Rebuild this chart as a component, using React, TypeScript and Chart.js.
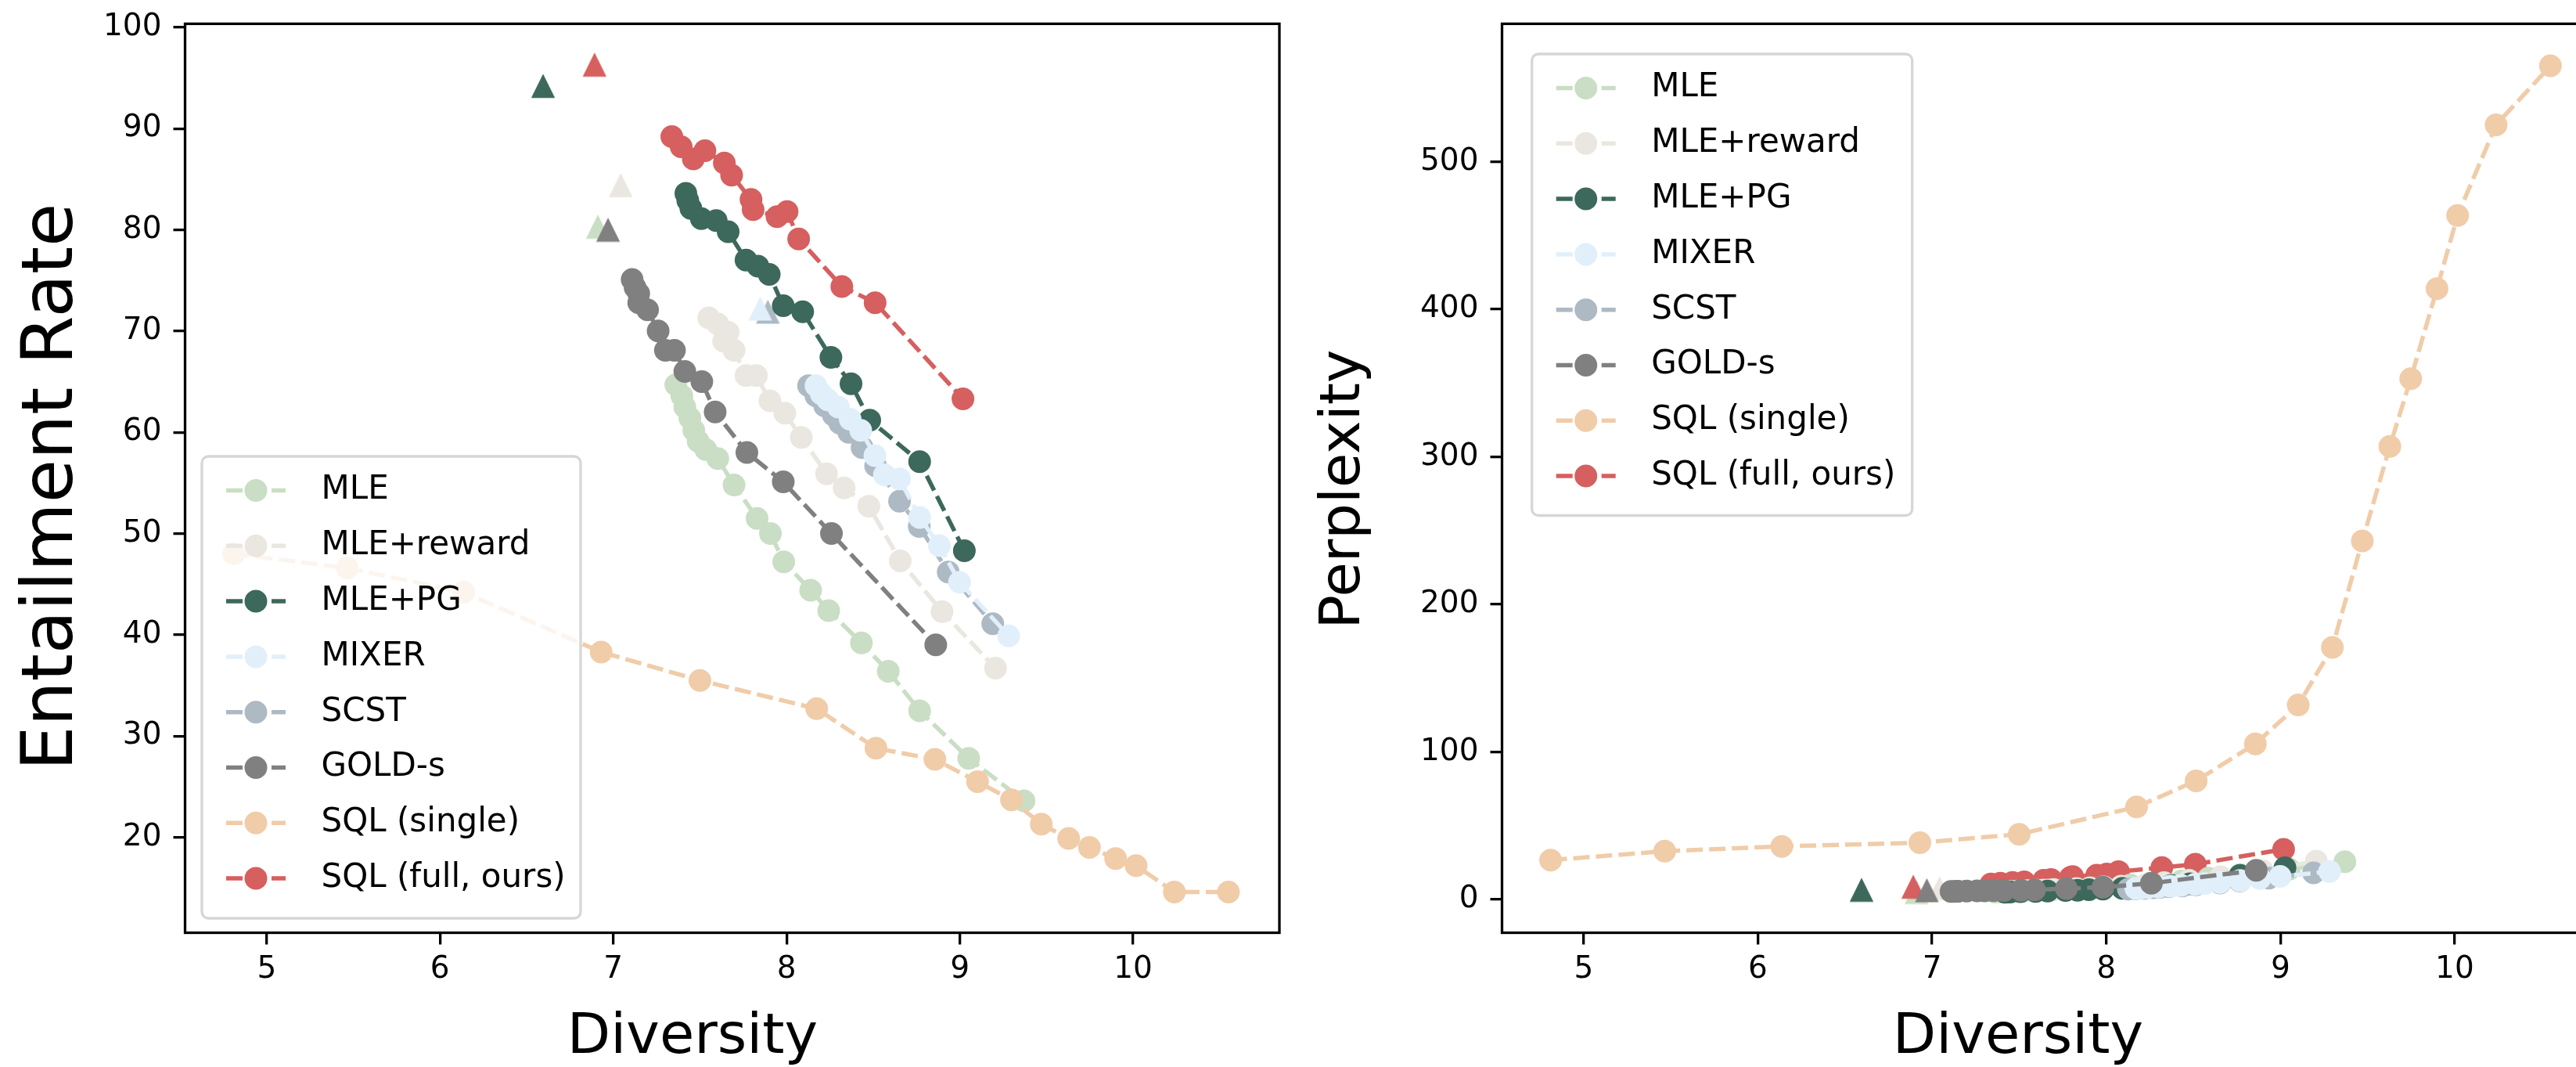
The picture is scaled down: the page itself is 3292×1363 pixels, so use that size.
import React, { useEffect, useRef } from 'react';
import { Chart, registerables } from 'chart.js';

Chart.register(...registerables);

const FONT_FAMILY = '"DejaVu Sans", "Liberation Sans", sans-serif';

// ---- tick labels ----
const diversityTicks = [5, 6, 7, 8, 9, 10];
const entailmentTicks = [20, 30, 40, 50, 60, 70, 80, 90, 100];
const perplexityTicks = [0, 100, 200, 300, 400, 500];

// ---- series (legend order) ----
const seriesNames = ['MLE', 'MLE+reward', 'MLE+PG', 'MIXER', 'SCST', 'GOLD-s', 'SQL (single)', 'SQL (full, ours)'];
const seriesColors = ['#c9dec4', '#e9e7df', '#3d685c', '#e1effb', '#adb9c3', '#808080', '#f0cca9', '#d65f5f'];

// MLE
const mleDiversity = [7.361, 7.396, 7.413, 7.442, 7.465, 7.49, 7.534, 7.603, 7.697, 7.83, 7.907, 7.984, 8.139, 8.243, 8.432, 8.587, 8.768, 9.051, 9.37];
const mleEntailment = [64.7, 63.6, 62.5, 61.4, 60.2, 59.1, 58.3, 57.4, 54.8, 51.5, 50.0, 47.2, 44.4, 42.4, 39.2, 36.4, 32.5, 27.8, 23.6];
const mlePerplexity = [5.0, 5.1, 5.2, 5.4, 5.5, 5.7, 5.9, 6.2, 6.7, 7.4, 8.0, 8.6, 9.8, 10.8, 12.6, 14.4, 16.8, 20.5, 25.6];

// MLE+reward
const mleRewardDiversity = [7.551, 7.603, 7.663, 7.637, 7.697, 7.766, 7.826, 7.904, 7.99, 8.085, 8.231, 8.332, 8.475, 8.656, 8.897, 9.206];
const mleRewardEntailment = [71.3, 70.7, 69.9, 69.0, 68.1, 65.6, 65.6, 63.1, 61.9, 59.5, 55.9, 54.5, 52.7, 47.3, 42.3, 36.7];
const mleRewardPerplexity = [6.0, 6.2, 6.4, 6.4, 6.6, 7.0, 7.2, 7.6, 8.2, 9.0, 10.4, 11.4, 13.0, 15.4, 19.5, 26.0];

// MLE+PG
const mlePgDiversity = [7.419, 7.43, 7.448, 7.508, 7.594, 7.663, 7.766, 7.835, 7.9, 7.981, 8.093, 8.256, 8.372, 8.48, 8.768, 9.026];
const mlePgEntailment = [83.6, 82.9, 82.1, 81.1, 80.9, 79.8, 77.0, 76.4, 75.6, 72.5, 71.9, 67.4, 64.8, 61.2, 57.1, 48.3];
const mlePgPerplexity = [4.9, 5.0, 5.1, 5.3, 5.5, 5.7, 6.1, 6.3, 6.6, 7.0, 7.5, 8.6, 9.5, 10.6, 16.3, 21.5];

// MIXER
const mixerDiversity = [8.17, 8.2, 8.238, 8.299, 8.367, 8.428, 8.51, 8.565, 8.652, 8.768, 8.882, 8.998, 9.282];
const mixerEntailment = [64.6, 63.8, 63.2, 62.5, 61.3, 60.2, 57.7, 55.8, 55.4, 51.6, 48.8, 45.2, 39.9];
const mixerPerplexity = [7.5, 7.8, 8.1, 8.5, 9.0, 9.5, 10.3, 10.8, 11.6, 12.8, 14.2, 15.6, 19.0];

// SCST
const scstDiversity = [8.127, 8.17, 8.22, 8.27, 8.307, 8.359, 8.436, 8.514, 8.652, 8.766, 8.933, 9.19];
const scstEntailment = [64.6, 63.6, 62.6, 61.7, 60.9, 60.0, 58.5, 56.7, 53.2, 50.7, 46.2, 41.1];
const scstPerplexity = [7.0, 7.3, 7.6, 7.9, 8.2, 8.6, 9.2, 9.9, 11.2, 12.5, 14.5, 18.0];

// GOLD-s
const goldDiversity = [7.109, 7.126, 7.147, 7.147, 7.198, 7.259, 7.301, 7.353, 7.413, 7.511, 7.588, 7.771, 7.981, 8.259, 8.861];
const goldEntailment = [75.1, 74.3, 73.7, 72.8, 72.1, 70.0, 68.1, 68.1, 66.0, 65.0, 62.0, 58.0, 55.1, 50.0, 39.0];
const goldPerplexity = [5.5, 5.5, 5.6, 5.6, 5.7, 5.8, 5.9, 6.0, 6.1, 6.3, 6.5, 7.4, 8.3, 11.0, 19.8];

// SQL (single)
const sqlSingleDiversity = [4.81, 5.465, 6.137, 6.93, 7.5, 8.174, 8.516, 8.856, 9.102, 9.298, 9.47, 9.628, 9.748, 9.899, 10.017, 10.238, 10.55];
const sqlSingleEntailment = [48.0, 46.6, 44.2, 38.3, 35.5, 32.7, 28.8, 27.7, 25.5, 23.7, 21.3, 19.9, 19.0, 17.9, 17.2, 14.6, 14.6];
const sqlSinglePerplexity = [26.7, 32.7, 36.0, 38.5, 44.2, 62.7, 80.4, 105.5, 131.8, 170.9, 243.0, 307.1, 352.9, 414.0, 463.6, 525.0, 565.0];

// SQL (full, ours)
const sqlFullDiversity = [7.338, 7.392, 7.462, 7.529, 7.641, 7.683, 7.795, 7.807, 7.945, 8.003, 8.07, 8.319, 8.511, 9.018];
const sqlFullEntailment = [89.2, 88.2, 87.0, 87.8, 86.6, 85.4, 83.0, 82.0, 81.3, 81.8, 79.1, 74.4, 72.8, 63.3];
const sqlFullPerplexity = [10.5, 11.0, 11.5, 12.0, 13.0, 13.5, 15.0, 15.5, 16.5, 17.2, 18.9, 21.6, 23.9, 34.0];

// Triangle markers (one per method), listed in drawing order
const triangleSeries = ['MLE', 'MLE+reward', 'MLE+PG', 'SQL (full, ours)', 'SCST', 'MIXER', 'GOLD-s'];
const triangleDiversity = [6.911, 7.043, 6.595, 6.892, 7.892, 7.848, 6.97];
const triangleEntailment = [80.3, 84.4, 94.2, 96.3, 71.9, 72.2, 80.0];
const trianglePerplexity = [5.0, 7.5, 6.5, 8.6, 9.0, 8.0, 6.2];

// Line drawing order (bottom -> top)
const lineDrawOrder = ['SQL (full, ours)', 'MLE', 'MLE+reward', 'MLE+PG', 'SCST', 'MIXER', 'GOLD-s', 'SQL (single)'];

const seriesTable: Record<string, { div: number[]; ent: number[]; ppl: number[] }> = {
  'MLE': { div: mleDiversity, ent: mleEntailment, ppl: mlePerplexity },
  'MLE+reward': { div: mleRewardDiversity, ent: mleRewardEntailment, ppl: mleRewardPerplexity },
  'MLE+PG': { div: mlePgDiversity, ent: mlePgEntailment, ppl: mlePgPerplexity },
  'MIXER': { div: mixerDiversity, ent: mixerEntailment, ppl: mixerPerplexity },
  'SCST': { div: scstDiversity, ent: scstEntailment, ppl: scstPerplexity },
  'GOLD-s': { div: goldDiversity, ent: goldEntailment, ppl: goldPerplexity },
  'SQL (single)': { div: sqlSingleDiversity, ent: sqlSingleEntailment, ppl: sqlSinglePerplexity },
  'SQL (full, ours)': { div: sqlFullDiversity, ent: sqlFullEntailment, ppl: sqlFullPerplexity },
};

const colorOf = (name: string) => seriesColors[seriesNames.indexOf(name)];

function makeTriangle(color: string): HTMLCanvasElement {
  const s = 32;
  const c = document.createElement('canvas');
  c.width = s;
  c.height = s;
  const g = c.getContext('2d')!;
  g.fillStyle = color;
  g.beginPath();
  g.moveTo(s / 2, 0.5);
  g.lineTo(s - 0.8, s - 0.8);
  g.lineTo(0.8, s - 0.8);
  g.closePath();
  g.fill();
  return c;
}

const LINE_W = 5.5;
const DASH = [21, 8];
const MARKER_R = 14.5;
const SPINE_W = 3.3;

type Side = 'left' | 'right';

function buildConfig(side: Side): any {
  const isLeft = side === 'left';
  const canvasLeft = isLeft ? 0 : 1650;
  const canvasWidth = isLeft ? 1650 : 1750;
  const H = 1363;
  const areaLeft = (isLeft ? 236.5 : 1919.5) - canvasLeft;
  const areaRight = (isLeft ? 1639.6 : 3325) - canvasLeft;
  const areaTop = 30.4;
  const areaBottom = 1191.5;

  const yKey: 'ent' | 'ppl' = isLeft ? 'ent' : 'ppl';
  const triY = isLeft ? triangleEntailment : trianglePerplexity;

  const datasets: any[] = [];
  triangleSeries.forEach((name, i) => {
    datasets.push({
      label: name + ' (base)',
      data: [{ x: triangleDiversity[i], y: triY[i] }],
      showLine: false,
      pointStyle: makeTriangle(colorOf(name)),
      pointRadius: 15,
      pointBorderWidth: 0,
      backgroundColor: colorOf(name),
      borderColor: colorOf(name),
    });
  });
  lineDrawOrder.forEach((name) => {
    const s = seriesTable[name];
    const ys = s[yKey];
    const c = colorOf(name);
    datasets.push({
      label: name,
      data: s.div.map((x, i) => ({ x, y: ys[i] })),
      showLine: true,
      borderColor: c,
      backgroundColor: c,
      borderWidth: LINE_W,
      borderDash: DASH,
      borderCapStyle: 'butt',
      tension: 0,
      pointStyle: 'circle',
      pointRadius: MARKER_R,
      pointBackgroundColor: c,
      pointBorderColor: c,
      pointBorderWidth: 0,
    });
  });
  const N = datasets.length;
  datasets.forEach((d, i) => (d.order = N - i));

  const legendBox = isLeft
    ? { x: 258 - canvasLeft, y: 583, w: 484, h: 590 }
    : { x: 1957.7 - canvasLeft, y: 69, w: 486, h: 589.5 };

  const titles = isLeft
    ? { yText: 'Entailment Rate', ySize: 90, yX: 68.5, yY: 622, xText: 'Diversity', xSize: 72, xX: 885, xY: 1326 }
    : { yText: 'Perplexity', ySize: 72, yX: 1718 - canvasLeft, yY: 625, xText: 'Diversity', xSize: 72, xX: 2579 - canvasLeft, xY: 1326 };

  const overlay = {
    id: 'overlay',
    afterDraw(chart: any) {
      const { ctx, chartArea: a } = chart;
      ctx.save();
      // frame (spines)
      ctx.strokeStyle = '#000';
      ctx.lineWidth = SPINE_W;
      ctx.setLineDash([]);
      ctx.strokeRect(a.left, a.top, a.right - a.left, a.bottom - a.top);

      // legend
      const b = legendBox;
      const r = 8.3;
      ctx.beginPath();
      ctx.moveTo(b.x + r, b.y);
      ctx.lineTo(b.x + b.w - r, b.y);
      ctx.arcTo(b.x + b.w, b.y, b.x + b.w, b.y + r, r);
      ctx.lineTo(b.x + b.w, b.y + b.h - r);
      ctx.arcTo(b.x + b.w, b.y + b.h, b.x + b.w - r, b.y + b.h, r);
      ctx.lineTo(b.x + r, b.y + b.h);
      ctx.arcTo(b.x, b.y + b.h, b.x, b.y + b.h - r, r);
      ctx.lineTo(b.x, b.y + r);
      ctx.arcTo(b.x, b.y, b.x + r, b.y, r);
      ctx.closePath();
      ctx.fillStyle = 'rgba(255,255,255,0.8)';
      ctx.fill();
      ctx.strokeStyle = 'rgba(204,204,204,0.8)';
      ctx.lineWidth = 3.3;
      ctx.stroke();

      seriesNames.forEach((name, i) => {
        const y = b.y + 43.5 + i * 70.8;
        const c = seriesColors[i];
        ctx.strokeStyle = c;
        ctx.lineWidth = LINE_W;
        ctx.setLineDash(DASH);
        ctx.lineCap = 'butt';
        ctx.beginPath();
        ctx.moveTo(b.x + 31, y);
        ctx.lineTo(b.x + 107, y);
        ctx.stroke();
        ctx.setLineDash([]);
        ctx.fillStyle = c;
        ctx.beginPath();
        ctx.arc(b.x + 69, y, MARKER_R, 0, Math.PI * 2);
        ctx.fill();
        ctx.fillStyle = '#000';
        ctx.font = `42px ${FONT_FAMILY}`;
        ctx.textAlign = 'left';
        ctx.textBaseline = 'middle';
        ctx.fillText(name, b.x + 152.5, y);
      });

      // axis titles
      ctx.fillStyle = '#000';
      ctx.textAlign = 'center';
      ctx.textBaseline = 'middle';
      ctx.font = `${titles.xSize}px ${FONT_FAMILY}`;
      ctx.fillText(titles.xText, titles.xX, titles.xY);
      ctx.save();
      ctx.translate(titles.yX, titles.yY);
      ctx.rotate(-Math.PI / 2);
      ctx.font = `${titles.ySize}px ${FONT_FAMILY}`;
      ctx.fillText(titles.yText, 0, 0);
      ctx.restore();
      ctx.restore();
    },
  };

  const tickFont = { family: FONT_FAMILY, size: 39, lineHeight: 1.2 };
  const grid = {
    display: true,
    drawOnChartArea: false,
    drawTicks: true,
    tickLength: 15,
    tickWidth: SPINE_W,
    tickColor: '#000',
    color: '#000',
    lineWidth: SPINE_W,
  };

  return {
    type: 'scatter',
    data: { datasets },
    options: {
      animation: false,
      responsive: false,
      devicePixelRatio: 1,
      events: [],
      layout: { padding: { top: areaTop, right: canvasWidth - areaRight, bottom: 0, left: 0 } },
      plugins: { legend: { display: false }, tooltip: { enabled: false }, title: { display: false } },
      scales: {
        x: {
          type: 'linear',
          position: 'bottom',
          min: isLeft ? 4.529 : 4.531,
          max: isLeft ? 10.844 : 10.845,
          afterBuildTicks: (s: any) => {
            s.ticks = diversityTicks.map((v) => ({ value: v }));
          },
          afterFit: (s: any) => {
            s.height = H - areaBottom;
            s.paddingLeft = 0;
            s.paddingRight = 0;
          },
          grid,
          border: { display: false },
          ticks: { font: tickFont, color: '#000', padding: 8.6, autoSkip: false, maxRotation: 0 },
          title: { display: false },
        },
        y: {
          type: 'linear',
          position: 'left',
          min: isLeft ? 10.58 : -22.55,
          max: isLeft ? 100.34 : 593.5,
          afterBuildTicks: (s: any) => {
            s.ticks = (isLeft ? entailmentTicks : perplexityTicks).map((v) => ({ value: v }));
          },
          afterFit: (s: any) => {
            s.width = areaLeft;
            s.paddingTop = 0;
            s.paddingBottom = 0;
          },
          grid,
          border: { display: false },
          ticks: { font: tickFont, color: '#000', padding: 15, autoSkip: false },
          title: { display: false },
        },
      },
    },
    plugins: [overlay],
  };
}

export default function App() {
  const leftRef = useRef<HTMLCanvasElement>(null);
  const rightRef = useRef<HTMLCanvasElement>(null);

  useEffect(() => {
    const c1 = new Chart(leftRef.current as HTMLCanvasElement, buildConfig('left'));
    const c2 = new Chart(rightRef.current as HTMLCanvasElement, buildConfig('right'));
    return () => {
      c1.destroy();
      c2.destroy();
    };
  }, []);

  return (
    <div
      style={{
        position: 'fixed',
        left: 0,
        top: 0,
        width: 3292,
        height: 1363,
        overflow: 'hidden',
        background: '#ffffff',
      }}
    >
      <canvas
        ref={leftRef}
        width={1650}
        height={1363}
        style={{ position: 'absolute', left: 0, top: 0, width: 1650, height: 1363 }}
      />
      <canvas
        ref={rightRef}
        width={1750}
        height={1363}
        style={{ position: 'absolute', left: 1650, top: 0, width: 1750, height: 1363 }}
      />
    </div>
  );
}
